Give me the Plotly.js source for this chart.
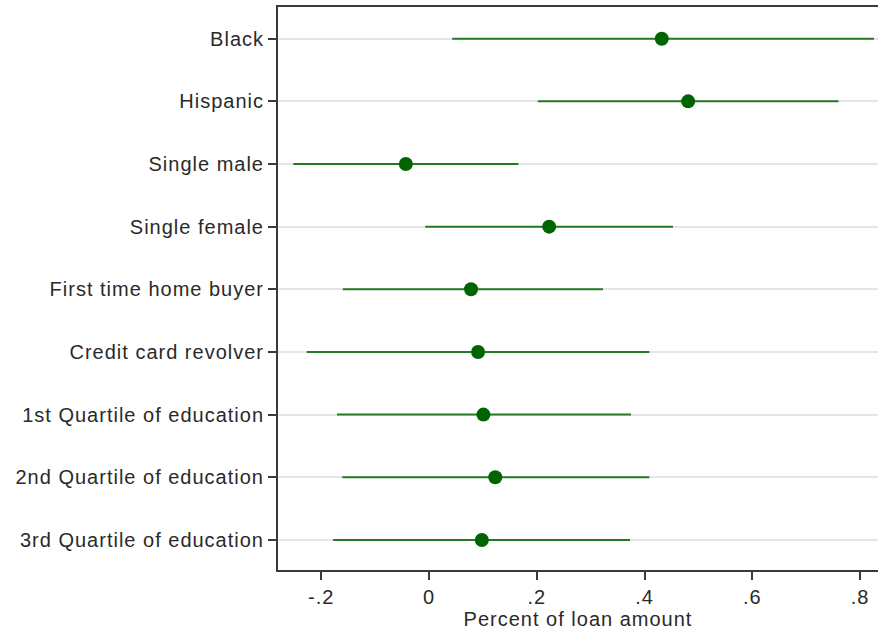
<!DOCTYPE html>
<html>
<head>
<meta charset="utf-8">
<script src="https://cdn.plot.ly/plotly-3.0.1.min.js"></script>
<style>
  html, body { margin: 0; padding: 0; background: #fff; }
  #chart { width: 878px; height: 635px; }
  /* slightly wider tracking on the axis texts */
  .ytick text, .xtick text, .g-xtitle text { letter-spacing: 1px; }
</style>
</head>
<body>
<div id="chart"></div>
<script>
// Coefficient estimates (percent of loan amount) with 95% confidence bounds
const groups = [
  "Black",
  "Hispanic",
  "Single male",
  "Single female",
  "First time home buyer",
  "Credit card revolver",
  "1st Quartile of education",
  "2nd Quartile of education",
  "3rd Quartile of education"
];
const estimate = [0.432, 0.481, -0.043, 0.223, 0.078, 0.091, 0.101, 0.123, 0.098];
const lower    = [0.043, 0.202, -0.252, -0.007, -0.160, -0.227, -0.171, -0.161, -0.178];
const upper    = [0.826, 0.760, 0.166, 0.453, 0.323, 0.409, 0.375, 0.409, 0.373];
const xTicks     = [-0.2, 0, 0.2, 0.4, 0.6, 0.8];
const xTickText  = ["-.2", "0", ".2", ".4", ".6", ".8"];

const plusErr  = upper.map((u, i) => u - estimate[i]);
const minusErr = lower.map((l, i) => estimate[i] - l);

const axisColor = "#3a3a3a";
const textFont = { family: "Liberation Sans, Arial, sans-serif", size: 20, color: "#2a2a2a" };

const trace = {
  type: "scatter",
  mode: "markers",
  x: estimate,
  y: groups,
  marker: { color: "#006400", size: 14, line: { width: 0 } },
  error_x: {
    type: "data",
    symmetric: false,
    array: plusErr,
    arrayminus: minusErr,
    color: "#237a23",
    thickness: 2,
    width: 0
  },
  hoverinfo: "x+y",
  showlegend: false
};

const layout = {
  width: 878,
  height: 635,
  margin: { l: 278, r: 0, t: 7, b: 65 },
  paper_bgcolor: "#ffffff",
  plot_bgcolor: "#ffffff",
  font: textFont,
  xaxis: {
    range: [-0.2803, 0.8334],
    tickvals: xTicks,
    ticktext: xTickText,
    ticks: "outside",
    ticklen: 8,
    tickwidth: 2,
    tickcolor: axisColor,
    showline: true,
    linecolor: axisColor,
    linewidth: 2,
    mirror: true,
    showgrid: false,
    zeroline: false,
    tickfont: textFont,
    title: { text: "Percent of loan amount", font: textFont, standoff: 4 }
  },
  yaxis: {
    type: "category",
    categoryorder: "array",
    categoryarray: groups,
    range: [8.48, -0.506],
    ticks: "outside",
    ticklen: 8,
    tickwidth: 2,
    tickcolor: axisColor,
    showline: true,
    linecolor: axisColor,
    linewidth: 2,
    showgrid: true,
    gridcolor: "#e6e6e6",
    gridwidth: 2,
    zeroline: false,
    tickfont: textFont
  }
};

Plotly.newPlot("chart", [trace], layout, { displayModeBar: false, staticPlot: true });
</script>
</body>
</html>
